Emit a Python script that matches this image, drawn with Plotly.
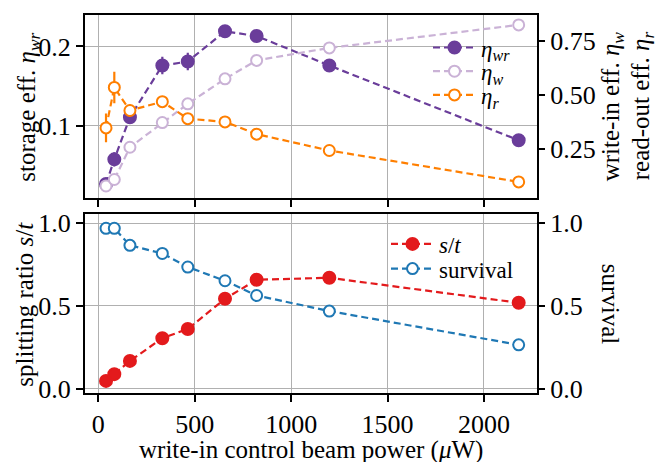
import plotly.graph_objects as go

# ---------------- data ----------------
power = [40, 83, 164, 332, 464, 657, 821, 1198, 2180]

eta_wr = [0.027, 0.058, 0.111, 0.176, 0.181, 0.219, 0.213, 0.176, 0.082]
eta_wr_err = [0.004, 0.009, 0.008, 0.011, 0.011, 0.008, 0.008, 0.005, 0.004]

eta_w = [0.077, 0.107, 0.257, 0.372, 0.459, 0.575, 0.661, 0.719, 0.826]
eta_w_err = [0.01, 0.01, 0.01, 0.01, 0.01, 0.01, 0.01, 0.01, 0.01]

eta_r = [0.347, 0.535, 0.428, 0.469, 0.390, 0.375, 0.318, 0.242, 0.096]
eta_r_err = [0.067, 0.073, 0.028, 0.01, 0.008, 0.006, 0.005, 0.004, 0.003]

split = [0.046, 0.087, 0.167, 0.304, 0.360, 0.542, 0.657, 0.669, 0.518]
split_err = [0.005, 0.005, 0.005, 0.005, 0.005, 0.005, 0.005, 0.005, 0.005]

survival = [0.968, 0.968, 0.865, 0.816, 0.734, 0.651, 0.562, 0.468, 0.264]
survival_err = [0.005, 0.005, 0.005, 0.005, 0.005, 0.005, 0.005, 0.005, 0.005]

x_ticks = [0, 500, 1000, 1500, 2000]
top_left_ticks = [0.1, 0.2]
top_right_ticks = [0.25, 0.50, 0.75]
top_right_ticktext = ["0.25", "0.50", "0.75"]
bot_ticks = [0.0, 0.5, 1.0]
bot_ticktext = ["0.0", "0.5", "1.0"]

# ---------------- style ----------------
FONT = "Liberation Serif, serif"
C_WR = "#6a3d9a"
C_W = "#cab2d6"
C_R = "#ff7f00"
C_ST = "#e31a1c"
C_SV = "#1f78b4"
DASH = "7px,4px"

W, H = 665, 462
ML, MR, MT, MB = 85, 128, 10, 69
PW, PH = W - ML - MR, H - MT - MB


def px_x(p):
    return (p - ML) / PW


def px_y(p):
    return (H - MB - p) / PH


def trace(x, y, err, color, name, filled, xa, ya, legend):
    marker = dict(size=12, color=color, line=dict(color=color, width=2)) if filled else \
        dict(size=11, color="white", line=dict(color=color, width=2))
    return go.Scatter(
        x=x, y=y, name=name, mode="lines+markers",
        xaxis=xa, yaxis=ya, legend=legend,
        line=dict(color=color, width=2.2, dash=DASH),
        marker=marker,
        error_y=dict(type="data", array=err, color=color, thickness=2.2, width=0),
    )


fig = go.Figure()
fig.add_trace(trace(power, eta_wr, eta_wr_err, C_WR, "<i>η<sub>wr</sub></i>", True, "x", "y", "legend"))
fig.add_trace(trace(power, eta_w, eta_w_err, C_W, "<i>η<sub>w</sub></i>", False, "x", "y2", "legend2"))
fig.add_trace(trace(power, eta_r, eta_r_err, C_R, "<i>η<sub>r</sub></i>", False, "x", "y2", "legend3"))
fig.add_trace(trace(power, split, split_err, C_ST, "<i>s</i>/<i>t</i>", True, "x2", "y3", "legend4"))
fig.add_trace(trace(power, survival, survival_err, C_SV, "survival", False, "x2", "y4", "legend5"))

top_dom = [px_y(195), 1.0]
bot_dom = [0.0, px_y(211.7)]
xrange_ = [-69, 2275]

common = dict(
    showline=True, linecolor="black", linewidth=2, mirror=True,
    ticks="outside", ticklen=7, tickwidth=1.6, tickcolor="black",
    gridcolor="#b0b0b0", gridwidth=1, zeroline=False,
    tickfont=dict(family=FONT, size=26, color="black"),
)


def leg(xpx, ypx):
    return dict(x=px_x(xpx), y=px_y(ypx), xanchor="left", yanchor="middle",
                bgcolor="rgba(0,0,0,0)", font=dict(family=FONT, size=23, color="black"),
                itemwidth=43)


fig.update_layout(
    width=W, height=H,
    margin=dict(l=ML, r=MR, t=MT, b=MB),
    paper_bgcolor="white", plot_bgcolor="white",
    font=dict(family=FONT, color="black"),
    xaxis=dict(domain=[0, 1], anchor="y", range=xrange_, tickvals=x_ticks,
               showticklabels=False, **common),
    xaxis2=dict(domain=[0, 1], anchor="y3", range=xrange_, tickvals=x_ticks, **common),
    yaxis=dict(domain=top_dom, anchor="x", range=[0.0099, 0.2395], tickvals=top_left_ticks,
               ticktext=["0.1", "0.2"], **common),
    yaxis2=dict(overlaying="y", side="right", anchor="x", range=[0.023, 0.872],
                tickvals=top_right_ticks, ticktext=top_right_ticktext,
                **{**common, "showgrid": False, "showline": False}),
    yaxis3=dict(domain=bot_dom, anchor="x2", range=[-0.027, 1.054], tickvals=bot_ticks,
                ticktext=bot_ticktext, **common),
    yaxis4=dict(overlaying="y3", side="right", anchor="x2", range=[-0.027, 1.054],
                tickvals=bot_ticks, ticktext=bot_ticktext,
                **{**common, "showgrid": False, "showline": False}),
    legend=leg(428, 43),
    legend2=leg(428, 67),
    legend3=leg(428, 91),
    legend4=leg(386, 242),
    legend5=leg(386, 267),
    showlegend=True,
)

ann = dict(xref="paper", yref="paper", showarrow=False,
           font=dict(family=FONT, size=25, color="black"), xanchor="center", yanchor="middle")
fig.add_annotation(text="storage eff. <i>η<sub>wr</sub></i>", x=px_x(29), y=px_y(104), textangle=-90, **ann)
fig.add_annotation(text="splitting ratio <i>s</i>/<i>t</i>", x=px_x(25), y=px_y(302.5), textangle=-90, **ann)
fig.add_annotation(text="write-in eff. <i>η<sub>w</sub></i>", x=px_x(612), y=px_y(102.5), textangle=-90, **ann)
fig.add_annotation(text="read-out eff. <i>η<sub>r</sub></i>", x=px_x(642), y=px_y(102.5), textangle=-90, **ann)
fig.add_annotation(text="survival", x=px_x(610), y=px_y(302.5), textangle=90, **ann)
fig.add_annotation(text="write-in control beam power (<i>μ</i>W)", x=px_x(311), y=px_y(451), **ann)

fig.write_html("out.html", config={"displayModeBar": False},
               post_script="document.body.style.margin='0';document.body.style.overflow='hidden';")
